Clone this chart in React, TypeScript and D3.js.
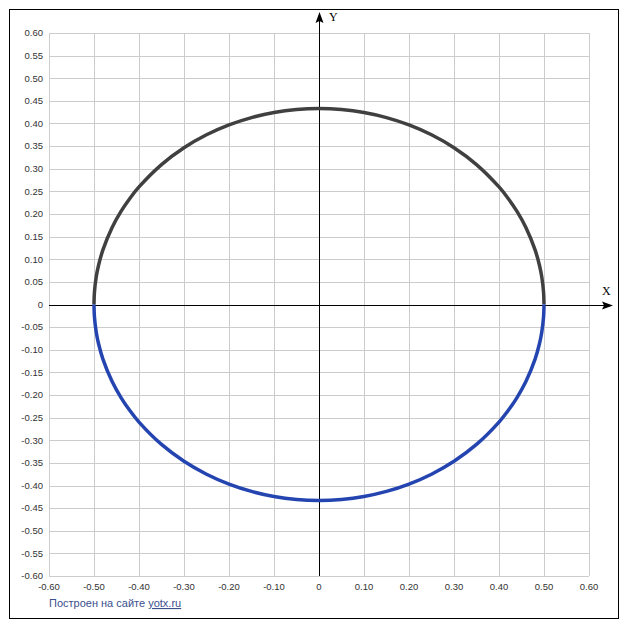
import React from "react";
import * as d3 from "d3";

// Points (upper half dark, lower half blue)
const curveX = [-0.5, -0.499, -0.495, -0.49, -0.48, -0.46, -0.44, -0.42, -0.4, -0.35, -0.3, -0.25, -0.2, -0.15, -0.1, -0.05, 0, 0.05, 0.1, 0.15, 0.2, 0.25, 0.3, 0.35, 0.4, 0.42, 0.44, 0.46, 0.48, 0.49, 0.495, 0.499, 0.5];
const upperY = [0, 0.0274, 0.0611, 0.0862, 0.1212, 0.1697, 0.2057, 0.2349, 0.2598, 0.3092, 0.3464, 0.375, 0.3969, 0.4131, 0.4243, 0.4308, 0.433, 0.4308, 0.4243, 0.4131, 0.3969, 0.375, 0.3464, 0.3092, 0.2598, 0.2349, 0.2057, 0.1697, 0.1212, 0.0862, 0.0611, 0.0274, 0];
const lowerY = [0, -0.0274, -0.0611, -0.0862, -0.1212, -0.1697, -0.2057, -0.2349, -0.2598, -0.3092, -0.3464, -0.375, -0.3969, -0.4131, -0.4243, -0.4308, -0.433, -0.4308, -0.4243, -0.4131, -0.3969, -0.375, -0.3464, -0.3092, -0.2598, -0.2349, -0.2057, -0.1697, -0.1212, -0.0862, -0.0611, -0.0274, 0];

const xTicks = [-0.6, -0.5, -0.4, -0.3, -0.2, -0.1, 0, 0.1, 0.2, 0.3, 0.4, 0.5, 0.6];
const yTicks = [0.6, 0.55, 0.5, 0.45, 0.4, 0.35, 0.3, 0.25, 0.2, 0.15, 0.1, 0.05, 0, -0.05, -0.1, -0.15, -0.2, -0.25, -0.3, -0.35, -0.4, -0.45, -0.5, -0.55, -0.6];

const fmt = (v: number) => (Math.abs(v) < 1e-9 ? "0" : v.toFixed(2));

export default function App() {
  const W = 627, H = 630;
  const x = d3.scaleLinear().domain([-0.6, 0.6]).range([49, 589]);
  const y = d3.scaleLinear().domain([0.6, -0.6]).range([33, 576]);
  const line = d3
    .line<[number, number]>()
    .x((d) => x(d[0]))
    .y((d) => y(d[1]))
    .curve(d3.curveCatmullRom.alpha(0.5));
  const upper = curveX.map((v, i) => [v, upperY[i]] as [number, number]);
  const lower = curveX.map((v, i) => [v, lowerY[i]] as [number, number]);
  const x0 = x(0), y0 = y(0);
  const font = "'Liberation Sans', Arial, sans-serif";
  return (
    <svg width={W} height={H} style={{ position: "absolute", left: 0, top: 0, background: "#fff" }}>
      <rect x={9.5} y={9.5} width={609} height={609} fill="#fff" stroke="#000" strokeWidth={1} />
      {xTicks.map((t) => (
        <line key={"gx" + t} x1={Math.round(x(t)) + 0.5} x2={Math.round(x(t)) + 0.5} y1={y(0.6)} y2={y(-0.6)} stroke="#cccccc" strokeWidth={1} />
      ))}
      {yTicks.map((t) => (
        <line key={"gy" + t} x1={x(-0.6)} x2={x(0.6)} y1={Math.round(y(t)) + 0.5} y2={Math.round(y(t)) + 0.5} stroke="#cccccc" strokeWidth={1} />
      ))}
      {yTicks.map((t) => (
        <text key={"ly" + t} x={43} y={y(t)} dy="0.35em" textAnchor="end" fontFamily={font} fontSize={9.5} fill="#333">
          {fmt(t)}
        </text>
      ))}
      {xTicks.map((t) => (
        <text key={"lx" + t} x={x(t)} y={587} dy="0.35em" textAnchor="middle" fontFamily={font} fontSize={9.5} fill="#333">
          {fmt(t)}
        </text>
      ))}
      {/* axes */}
      <line x1={Math.round(x0) + 0.5} x2={Math.round(x0) + 0.5} y1={y(-0.6)} y2={20} stroke="#000" strokeWidth={1} />
      <path d={`M${Math.round(x0) + 0.5},12 L${Math.round(x0) - 3.5},23 L${Math.round(x0) + 0.5},21 L${Math.round(x0) + 4.5},23 Z`} fill="#000" />
      <line x1={x(-0.6)} x2={605} y1={Math.round(y0) + 0.5} y2={Math.round(y0) + 0.5} stroke="#000" strokeWidth={1} />
      <path d={`M613,${Math.round(y0) + 0.5} L602,${Math.round(y0) - 3.5} L604,${Math.round(y0) + 0.5} L602,${Math.round(y0) + 4.5} Z`} fill="#000" />
      <text x={329} y={21} fontFamily="'Liberation Serif', 'Times New Roman', serif" fontSize={12} fill="#000">Y</text>
      <text x={602} y={295} fontFamily="'Liberation Serif', 'Times New Roman', serif" fontSize={12} fill="#000">X</text>
      {/* curves */}
      <path d={line(upper) || ""} fill="none" stroke="#404040" strokeWidth={3.5} />
      <path d={line(lower) || ""} fill="none" stroke="#2444b0" strokeWidth={3.5} />
      <text x={49} y={607} fontFamily={font} fontSize={11} fill="#3a4f8c">
        Построен на сайте <tspan textDecoration="underline" style={{ textDecoration: "underline" }}>yotx.ru</tspan>
      </text>
    </svg>
  );
}
